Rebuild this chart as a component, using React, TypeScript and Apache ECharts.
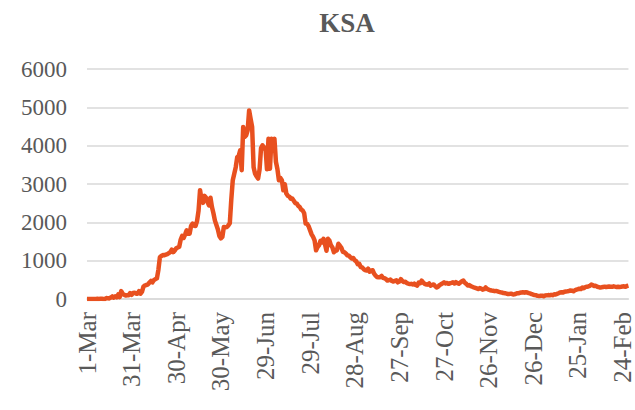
import React, { useEffect, useRef } from "react";
import * as echarts from "echarts";

// Daily new cases, KSA, 1-Mar-2020 .. 28-Feb-2021
const mar20 = [0,1,0,0,0,2,0,4,0,4,5,0,1,24,17,15,38,67,36,70,45,119,51,205,133,112,92,99,96,154,110];
const apr20 = [157,165,140,140,206,138,190,327,355,364,382,429,472,435,493,518,540,762,1088,1122,1147,1141,1158,1172,1197,1223,1289,1223,1266,1325];
const may20 = [1344,1362,1552,1645,1595,1687,1793,1701,1704,1912,1966,1911,1905,2039,2307,2840,2593,2509,2691,2642,2532,2442,2642,2399,2235,2045,1931,1815,1644,1581,1618];
const jun20 = [1881,1869,1877,1920,1975,2591,3100,3270,3440,3700,3733,3880,3360,4490,4230,4267,4400,4920,4700,4490,3440,3270,3200,3140,3372,3938,4010,3927,3943,3383];
const jul20 = [4180,3400,4180,4128,4180,3580,3392,3100,3159,3100,2835,2994,2750,2692,2671,2613,2620,2565,2504,2490,2429,2400,2331,2310,2238,1968,1960,1897,1790,1686,1620];
const aug20 = [1530,1270,1357,1400,1520,1480,1570,1428,1260,1570,1520,1400,1342,1220,1257,1270,1440,1390,1336,1230,1220,1187,1140,1130,1090,1059,1068,1010,985,910,918];
const sep20 = [835,823,780,752,741,790,712,740,750,660,610,575,565,570,600,550,540,520,480,492,505,470,455,472,486,435,454,520,466,442];
const oct20 = [450,415,402,390,395,380,402,365,350,428,410,480,430,395,380,375,405,350,365,380,340,300,320,362,385,410,435,405,420,395,410];
const nov20 = [420,435,405,440,415,398,430,462,480,425,395,350,362,335,320,305,292,278,260,285,270,243,255,300,262,246,229,220,214,205];
const dec20 = [210,198,185,176,168,155,152,142,130,133,140,125,120,131,148,150,162,171,175,166,178,170,153,145,125,112,103,97,82,76,85];
const jan21 = [88,70,92,95,102,96,108,100,121,118,134,150,170,175,168,190,197,202,210,222,218,201,228,245,255,268,258,300,283,310,321];
const feb21 = [328,342,375,360,338,345,320,310,300,306,315,322,310,318,325,320,318,330,322,315,320,312,318,325,330,318,340,350];

const monthNames = ["Jan","Feb","Mar","Apr","May","Jun","Jul","Aug","Sep","Oct","Nov","Dec"];
const startYear = 2020;
const startMonth = 2; // March
const labelEvery = 30;
const yTicks = [0, 1000, 2000, 3000, 4000, 5000, 6000];

const values = [
  ...mar20, ...apr20, ...may20, ...jun20, ...jul20, ...aug20,
  ...sep20, ...oct20, ...nov20, ...dec20, ...jan21, ...feb21,
];

const categories = values.map((_, i) => {
  const d = new Date(startYear, startMonth, 1 + i);
  return `${d.getDate()}-${monthNames[d.getMonth()]}`;
});

export default function App() {
  const ref = useRef<HTMLDivElement>(null);
  useEffect(() => {
    if (!ref.current) return;
    const chart = echarts.init(ref.current, undefined, { renderer: "svg" });
    const font = "'Liberation Serif', 'Times New Roman', serif";
    chart.setOption({
      animation: false,
      backgroundColor: "#ffffff",
      title: {
        text: "KSA",
        left: 342,
        top: 4,
        textAlign: "center",
        textStyle: {
          fontFamily: font,
          fontSize: 27,
          fontWeight: "bold",
          color: "#595959",
        },
      },
      grid: { left: 87, right: 2, top: 69, bottom: 111, containLabel: false },
      xAxis: {
        type: "category",
        data: categories,
        boundaryGap: false,
        axisLine: { lineStyle: { color: "#D9D9D9", width: 1.5 } },
        axisTick: { show: false },
        axisLabel: {
          interval: (idx: number) => idx % labelEvery === 0,
          rotate: 90,
          margin: 13,
          fontFamily: font,
          fontSize: 25,
          color: "#595959",
        },
        splitLine: { show: false },
      },
      yAxis: {
        type: "value",
        min: yTicks[0],
        max: yTicks[yTicks.length - 1],
        interval: 1000,
        axisLine: { show: false },
        axisTick: { show: false },
        axisLabel: {
          margin: 20,
          fontFamily: font,
          fontSize: 23,
          color: "#595959",
          formatter: (v: number) => String(v),
        },
        splitLine: { lineStyle: { color: "#D9D9D9", width: 1.5 } },
      },
      series: [
        {
          type: "line",
          data: values,
          showSymbol: false,
          symbol: "none",
          lineStyle: { color: "#E8501F", width: 4.5, join: "round" },
          itemStyle: { color: "#E8501F" },
        },
      ],
    });
    return () => chart.dispose();
  }, []);
  return <div ref={ref} style={{ width: 635, height: 410, position: "absolute", left: 0, top: 0 }} />;
}
